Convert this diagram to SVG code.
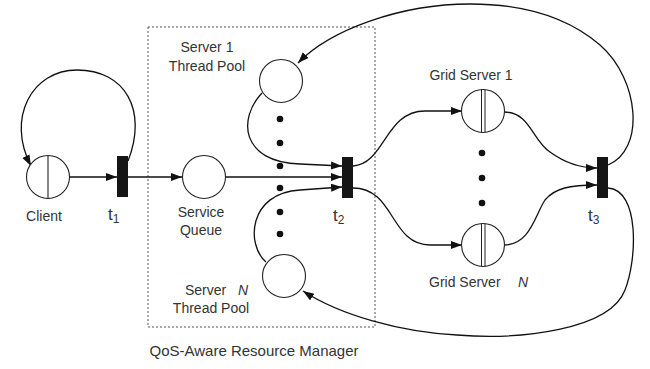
<svg xmlns="http://www.w3.org/2000/svg" width="650" height="369" viewBox="0 0 650 369">
<defs>
<marker id="ah" markerUnits="userSpaceOnUse" markerWidth="12" markerHeight="10" refX="11" refY="4" orient="auto">
<path d="M0,0 L11,4 L0,8 Z" fill="#111"/>
</marker>
<style>
.place{fill:#fff;stroke:#222;stroke-width:1.1}
.bar{fill:#151515}
.arc{fill:none;stroke:#111;stroke-width:1.3;marker-end:url(#ah)}
.lbl{font-family:"Liberation Sans",Arial,sans-serif;font-size:14px;fill:#333}
.t{font-family:"Liberation Sans",Arial,sans-serif;font-size:17px;fill:#333}
.sub{font-size:12px}
.dot{fill:#111}
</style>
</defs>
<rect width="650" height="369" fill="#fff"/>
<g id="manager-box">
<rect x="148" y="27" width="227" height="300" fill="none" stroke="#555" stroke-width="1" stroke-dasharray="2,2"/>
<text class="lbl" x="254" y="356" text-anchor="middle" style="font-size:15px">QoS-Aware Resource Manager</text>
</g>
<g id="connectors">
<path class="arc" d="M70,177 L117,177"/>
<path class="arc" d="M128,161 C148,110 125,70 77,70 C32,70 6,118 31,166"/>
<path class="arc" d="M128,177 L182,177"/>
<path class="arc" d="M226,177 L342,177"/>
<path class="arc" d="M262,93 C238,118 240,162 300,164 L342,166"/>
<path class="arc" d="M266,262 C246,245 248,193 300,190 L342,187"/>
<path class="arc" d="M353,166 C385,164 385,111 425,111 L462,111"/>
<path class="arc" d="M353,188 C395,188 390,245 430,245 L462,245"/>
<path class="arc" d="M504,112 C530,112 532,140 550,152 C565,163 580,168 597,168"/>
<path class="arc" d="M504,245 C530,245 535,215 545,200 C555,188 570,185 597,185"/>
<path class="arc" d="M608,165 C645,150 640,80 600,45 C565,15 520,4 470,4 C400,4 330,30 298,63"/>
<path class="arc" d="M608,188 C640,190 637,260 625,290 C610,330 520,340 457,335 C400,332 340,315 303,291"/>
</g>
<g id="client">
<circle class="place" cx="48" cy="177" r="21.5"/>
<line x1="48" y1="155.5" x2="48" y2="198.5" stroke="#222" stroke-width="1.1"/>
<text class="lbl" x="44" y="221" text-anchor="middle">Client</text>
</g>
<g id="t1">
<rect class="bar" x="117" y="156" width="11" height="41"/>
<text class="t" x="108" y="220">t<tspan class="sub" dy="3">1</tspan></text>
</g>
<g id="service-queue">
<circle class="place" cx="204" cy="177" r="21.5"/>
<text class="lbl" x="201" y="217" text-anchor="middle">Service</text>
<text class="lbl" x="201" y="235" text-anchor="middle">Queue</text>
</g>
<g id="server1-pool">
<circle class="place" cx="281" cy="81" r="21.5"/>
<text class="lbl" x="207" y="52" text-anchor="middle">Server 1</text>
<text class="lbl" x="207" y="71" text-anchor="middle">Thread Pool</text>
</g>
<g id="pool-dots">
<circle class="dot" cx="280" cy="119" r="3.3"/>
<circle class="dot" cx="280" cy="143" r="3.3"/>
<circle class="dot" cx="280" cy="166" r="3.3"/>
<circle class="dot" cx="280" cy="188" r="3.3"/>
<circle class="dot" cx="280" cy="212" r="3.3"/>
<circle class="dot" cx="280" cy="234" r="3.3"/>
</g>
<g id="serverN-pool">
<circle class="place" cx="284" cy="276" r="21.5"/>
<text class="lbl" x="185" y="295">Server</text>
<text class="lbl" x="238" y="295" font-style="italic">N</text>
<text class="lbl" x="211" y="313" text-anchor="middle">Thread Pool</text>
</g>
<g id="t2">
<rect class="bar" x="342" y="157" width="11" height="41"/>
<text class="t" x="333" y="221">t<tspan class="sub" dy="3">2</tspan></text>
</g>
<g id="grid-server-1">
<circle class="place" cx="483" cy="111" r="21.5"/>
<line x1="481.5" y1="89.5" x2="481.5" y2="132.5" stroke="#222" stroke-width="1"/>
<line x1="485" y1="89.5" x2="485" y2="132.5" stroke="#222" stroke-width="1"/>
<text class="lbl" x="471" y="80" text-anchor="middle">Grid Server 1</text>
</g>
<g id="grid-dots">
<circle class="dot" cx="482" cy="153" r="3.3"/>
<circle class="dot" cx="482" cy="178" r="3.3"/>
<circle class="dot" cx="482" cy="203" r="3.3"/>
</g>
<g id="grid-server-N">
<circle class="place" cx="483" cy="245" r="21.5"/>
<line x1="481.5" y1="223.5" x2="481.5" y2="266.5" stroke="#222" stroke-width="1"/>
<line x1="485" y1="223.5" x2="485" y2="266.5" stroke="#222" stroke-width="1"/>
<text class="lbl" x="429" y="287">Grid Server</text>
<text class="lbl" x="518" y="287" font-style="italic">N</text>
</g>
<g id="t3">
<rect class="bar" x="597" y="157" width="11" height="41"/>
<text class="t" x="588" y="221">t<tspan class="sub" dy="3">3</tspan></text>
</g>
</svg>
